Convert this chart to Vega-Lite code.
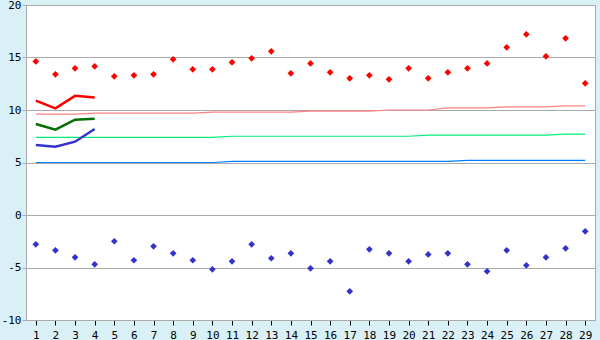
{
  "$schema": "https://vega.github.io/schema/vega-lite/v6.json",
  "autosize": "none",
  "width": 569,
  "height": 315,
  "padding": {"left": 26, "top": 5, "right": 5, "bottom": 20},
  "background": "#d9f0f7",
  "config": {
    "view": {"stroke": "#aaaaaa", "fill": "#ffffff", "strokeWidth": 1},
    "axis": {"labelFont": "DejaVu Sans Mono", "labelFontSize": 11, "labelColor": "#000000"}
  },
  "datasets": {
    "normals": [
      {"day": 1, "s": "nmax", "v": 9.6}, {"day": 2, "s": "nmax", "v": 9.6}, {"day": 3, "s": "nmax", "v": 9.6},
      {"day": 4, "s": "nmax", "v": 9.7}, {"day": 5, "s": "nmax", "v": 9.7}, {"day": 6, "s": "nmax", "v": 9.7},
      {"day": 7, "s": "nmax", "v": 9.7}, {"day": 8, "s": "nmax", "v": 9.7}, {"day": 9, "s": "nmax", "v": 9.7},
      {"day": 10, "s": "nmax", "v": 9.8}, {"day": 11, "s": "nmax", "v": 9.8}, {"day": 12, "s": "nmax", "v": 9.8},
      {"day": 13, "s": "nmax", "v": 9.8}, {"day": 14, "s": "nmax", "v": 9.8}, {"day": 15, "s": "nmax", "v": 9.9},
      {"day": 16, "s": "nmax", "v": 9.9}, {"day": 17, "s": "nmax", "v": 9.9}, {"day": 18, "s": "nmax", "v": 9.9},
      {"day": 19, "s": "nmax", "v": 10.0}, {"day": 20, "s": "nmax", "v": 10.0}, {"day": 21, "s": "nmax", "v": 10.0},
      {"day": 22, "s": "nmax", "v": 10.2}, {"day": 23, "s": "nmax", "v": 10.2}, {"day": 24, "s": "nmax", "v": 10.2},
      {"day": 25, "s": "nmax", "v": 10.3}, {"day": 26, "s": "nmax", "v": 10.3}, {"day": 27, "s": "nmax", "v": 10.3},
      {"day": 28, "s": "nmax", "v": 10.4}, {"day": 29, "s": "nmax", "v": 10.4},
      {"day": 1, "s": "nmean", "v": 7.4}, {"day": 2, "s": "nmean", "v": 7.4}, {"day": 3, "s": "nmean", "v": 7.4},
      {"day": 4, "s": "nmean", "v": 7.4}, {"day": 5, "s": "nmean", "v": 7.4}, {"day": 6, "s": "nmean", "v": 7.4},
      {"day": 7, "s": "nmean", "v": 7.4}, {"day": 8, "s": "nmean", "v": 7.4}, {"day": 9, "s": "nmean", "v": 7.4},
      {"day": 10, "s": "nmean", "v": 7.4}, {"day": 11, "s": "nmean", "v": 7.5}, {"day": 12, "s": "nmean", "v": 7.5},
      {"day": 13, "s": "nmean", "v": 7.5}, {"day": 14, "s": "nmean", "v": 7.5}, {"day": 15, "s": "nmean", "v": 7.5},
      {"day": 16, "s": "nmean", "v": 7.5}, {"day": 17, "s": "nmean", "v": 7.5}, {"day": 18, "s": "nmean", "v": 7.5},
      {"day": 19, "s": "nmean", "v": 7.5}, {"day": 20, "s": "nmean", "v": 7.5}, {"day": 21, "s": "nmean", "v": 7.6},
      {"day": 22, "s": "nmean", "v": 7.6}, {"day": 23, "s": "nmean", "v": 7.6}, {"day": 24, "s": "nmean", "v": 7.6},
      {"day": 25, "s": "nmean", "v": 7.6}, {"day": 26, "s": "nmean", "v": 7.6}, {"day": 27, "s": "nmean", "v": 7.6},
      {"day": 28, "s": "nmean", "v": 7.7}, {"day": 29, "s": "nmean", "v": 7.7},
      {"day": 1, "s": "nmin", "v": 5.0}, {"day": 2, "s": "nmin", "v": 5.0}, {"day": 3, "s": "nmin", "v": 5.0},
      {"day": 4, "s": "nmin", "v": 5.0}, {"day": 5, "s": "nmin", "v": 5.0}, {"day": 6, "s": "nmin", "v": 5.0},
      {"day": 7, "s": "nmin", "v": 5.0}, {"day": 8, "s": "nmin", "v": 5.0}, {"day": 9, "s": "nmin", "v": 5.0},
      {"day": 10, "s": "nmin", "v": 5.0}, {"day": 11, "s": "nmin", "v": 5.1}, {"day": 12, "s": "nmin", "v": 5.1},
      {"day": 13, "s": "nmin", "v": 5.1}, {"day": 14, "s": "nmin", "v": 5.1}, {"day": 15, "s": "nmin", "v": 5.1},
      {"day": 16, "s": "nmin", "v": 5.1}, {"day": 17, "s": "nmin", "v": 5.1}, {"day": 18, "s": "nmin", "v": 5.1},
      {"day": 19, "s": "nmin", "v": 5.1}, {"day": 20, "s": "nmin", "v": 5.1}, {"day": 21, "s": "nmin", "v": 5.1},
      {"day": 22, "s": "nmin", "v": 5.1}, {"day": 23, "s": "nmin", "v": 5.2}, {"day": 24, "s": "nmin", "v": 5.2},
      {"day": 25, "s": "nmin", "v": 5.2}, {"day": 26, "s": "nmin", "v": 5.2}, {"day": 27, "s": "nmin", "v": 5.2},
      {"day": 28, "s": "nmin", "v": 5.2}, {"day": 29, "s": "nmin", "v": 5.2}
    ],
    "running": [
      {"day": 1, "s": "rmax", "v": 10.89}, {"day": 2, "s": "rmax", "v": 10.16}, {"day": 3, "s": "rmax", "v": 11.35}, {"day": 4, "s": "rmax", "v": 11.2},
      {"day": 1, "s": "rmean", "v": 8.67}, {"day": 2, "s": "rmean", "v": 8.13}, {"day": 3, "s": "rmean", "v": 9.08}, {"day": 4, "s": "rmean", "v": 9.17},
      {"day": 1, "s": "rmin", "v": 6.67}, {"day": 2, "s": "rmin", "v": 6.51}, {"day": 3, "s": "rmin", "v": 6.98}, {"day": 4, "s": "rmin", "v": 8.19}
    ],
    "daily": [
      {"day": 1, "s": "max", "v": 14.63}, {"day": 2, "s": "max", "v": 13.4}, {"day": 3, "s": "max", "v": 13.97}, {"day": 4, "s": "max", "v": 14.16},
      {"day": 5, "s": "max", "v": 13.21}, {"day": 6, "s": "max", "v": 13.3}, {"day": 7, "s": "max", "v": 13.4}, {"day": 8, "s": "max", "v": 14.83},
      {"day": 9, "s": "max", "v": 13.87}, {"day": 10, "s": "max", "v": 13.87}, {"day": 11, "s": "max", "v": 14.54}, {"day": 12, "s": "max", "v": 14.92},
      {"day": 13, "s": "max", "v": 15.59}, {"day": 14, "s": "max", "v": 13.49}, {"day": 15, "s": "max", "v": 14.44}, {"day": 16, "s": "max", "v": 13.59},
      {"day": 17, "s": "max", "v": 13.02}, {"day": 18, "s": "max", "v": 13.3}, {"day": 19, "s": "max", "v": 12.92}, {"day": 20, "s": "max", "v": 13.97},
      {"day": 21, "s": "max", "v": 13.02}, {"day": 22, "s": "max", "v": 13.59}, {"day": 23, "s": "max", "v": 13.97}, {"day": 24, "s": "max", "v": 14.44},
      {"day": 25, "s": "max", "v": 15.97}, {"day": 26, "s": "max", "v": 17.21}, {"day": 27, "s": "max", "v": 15.11}, {"day": 28, "s": "max", "v": 16.83},
      {"day": 29, "s": "max", "v": 12.54},
      {"day": 1, "s": "min", "v": -2.79}, {"day": 2, "s": "min", "v": -3.36}, {"day": 3, "s": "min", "v": -4.03}, {"day": 4, "s": "min", "v": -4.7},
      {"day": 5, "s": "min", "v": -2.5}, {"day": 6, "s": "min", "v": -4.31}, {"day": 7, "s": "min", "v": -2.98}, {"day": 8, "s": "min", "v": -3.65},
      {"day": 9, "s": "min", "v": -4.31}, {"day": 10, "s": "min", "v": -5.17}, {"day": 11, "s": "min", "v": -4.41}, {"day": 12, "s": "min", "v": -2.79},
      {"day": 13, "s": "min", "v": -4.12}, {"day": 14, "s": "min", "v": -3.65}, {"day": 15, "s": "min", "v": -5.08}, {"day": 16, "s": "min", "v": -4.41},
      {"day": 17, "s": "min", "v": -7.27}, {"day": 18, "s": "min", "v": -3.27}, {"day": 19, "s": "min", "v": -3.65}, {"day": 20, "s": "min", "v": -4.41},
      {"day": 21, "s": "min", "v": -3.75}, {"day": 22, "s": "min", "v": -3.65}, {"day": 23, "s": "min", "v": -4.7}, {"day": 24, "s": "min", "v": -5.36},
      {"day": 25, "s": "min", "v": -3.36}, {"day": 26, "s": "min", "v": -4.79}, {"day": 27, "s": "min", "v": -4.03}, {"day": 28, "s": "min", "v": -3.17},
      {"day": 29, "s": "min", "v": -1.55}
    ]
  },
  "encoding": {
    "x": {
      "field": "day", "type": "quantitative",
      "scale": {"domain": [0.5, 29.5], "nice": false, "zero": false},
      "axis": {
        "title": null, "grid": false,
        "values": [1,2,3,4,5,6,7,8,9,10,11,12,13,14,15,16,17,18,19,20,21,22,23,24,25,26,27,28,29],
        "domainColor": "#aaaaaa", "tickColor": "#000000", "tickSize": 5, "labelPadding": 4,
        "labelFlush": false
      }
    },
    "y": {
      "field": "v", "type": "quantitative",
      "scale": {"domain": [-10, 20], "nice": false, "zero": false},
      "axis": {
        "title": null, "values": [-10, -5, 0, 5, 10, 15, 20],
        "gridColor": "#aaaaaa", "gridOpacity": 1, "domainColor": "#aaaaaa",
        "tickColor": "#aaaaaa", "tickSize": 4, "labelPadding": 1,
        "labelExpr": "datum.value + ''", "labelFlush": false
      }
    }
  },
  "layer": [
    {
      "data": {"name": "normals"},
      "mark": {"type": "line", "strokeWidth": 1.2},
      "encoding": {
        "color": {"field": "s", "type": "nominal", "legend": null,
          "scale": {"domain": ["nmax", "nmean", "nmin"], "range": ["#ff8080", "#00ee77", "#0080ff"]}}
      }
    },
    {
      "data": {"name": "running"},
      "mark": {"type": "line", "strokeWidth": 2.5},
      "encoding": {
        "color": {"field": "s", "type": "nominal", "legend": null,
          "scale": {"domain": ["rmax", "rmean", "rmin"], "range": ["#ff0000", "#007000", "#3333cc"]}}
      }
    },
    {
      "data": {"name": "daily"},
      "mark": {"type": "point", "shape": "diamond", "filled": true, "size": 45, "opacity": 1},
      "encoding": {
        "color": {"field": "s", "type": "nominal", "legend": null,
          "scale": {"domain": ["max", "min"], "range": ["#ff0000", "#3333cc"]}}
      }
    }
  ],
  "resolve": {"scale": {"color": "independent"}}
}
